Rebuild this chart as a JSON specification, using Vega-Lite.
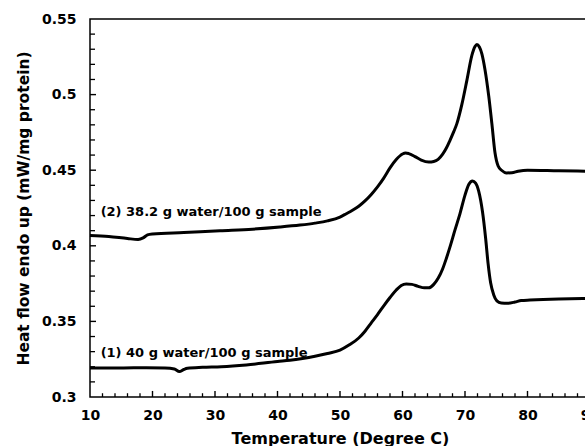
{
  "$schema": "https://vega.github.io/schema/vega-lite/v6.json",
  "width": 500,
  "height": 378,
  "autosize": {"type": "none"},
  "padding": {"left": 90, "top": 19, "right": 0, "bottom": 49},
  "background": "white",
  "config": {
    "view": {"stroke": "black", "strokeWidth": 1.5},
    "font": "DejaVu Sans",
    "axis": {"grid": false, "domain": false, "ticks": false, "labelColor": "black", "titleColor": "black", "labelFont": "DejaVu Sans", "titleFont": "DejaVu Sans"}
  },
  "datasets": {
    "curves": [
      {"series": "1", "t": 10, "h": 0.3192},
      {"series": "1", "t": 12, "h": 0.3192},
      {"series": "1", "t": 15, "h": 0.3192},
      {"series": "1", "t": 19, "h": 0.3194},
      {"series": "1", "t": 22, "h": 0.3192},
      {"series": "1", "t": 23.5, "h": 0.3185},
      {"series": "1", "t": 24.3, "h": 0.3168},
      {"series": "1", "t": 25.0, "h": 0.3182},
      {"series": "1", "t": 25.6, "h": 0.319},
      {"series": "1", "t": 28, "h": 0.3196},
      {"series": "1", "t": 31, "h": 0.32},
      {"series": "1", "t": 35, "h": 0.3212},
      {"series": "1", "t": 40, "h": 0.3235},
      {"series": "1", "t": 42, "h": 0.3243},
      {"series": "1", "t": 44, "h": 0.3255},
      {"series": "1", "t": 46, "h": 0.327},
      {"series": "1", "t": 48, "h": 0.3288},
      {"series": "1", "t": 50, "h": 0.331},
      {"series": "1", "t": 51.5, "h": 0.3345},
      {"series": "1", "t": 53, "h": 0.339},
      {"series": "1", "t": 54, "h": 0.3435},
      {"series": "1", "t": 55, "h": 0.349},
      {"series": "1", "t": 56, "h": 0.3545},
      {"series": "1", "t": 57, "h": 0.3603},
      {"series": "1", "t": 58, "h": 0.3658},
      {"series": "1", "t": 59, "h": 0.3708},
      {"series": "1", "t": 59.8, "h": 0.3738},
      {"series": "1", "t": 60.6, "h": 0.3748},
      {"series": "1", "t": 61.5, "h": 0.3745},
      {"series": "1", "t": 62.5, "h": 0.3732},
      {"series": "1", "t": 63.5, "h": 0.3722},
      {"series": "1", "t": 64.2, "h": 0.3722},
      {"series": "1", "t": 65, "h": 0.3745},
      {"series": "1", "t": 65.7, "h": 0.3785},
      {"series": "1", "t": 66.4, "h": 0.3845},
      {"series": "1", "t": 67, "h": 0.3915},
      {"series": "1", "t": 67.6, "h": 0.3993},
      {"series": "1", "t": 68.4, "h": 0.4105},
      {"series": "1", "t": 69.2, "h": 0.4213},
      {"series": "1", "t": 70, "h": 0.4335},
      {"series": "1", "t": 70.6, "h": 0.4405},
      {"series": "1", "t": 71.2, "h": 0.4429},
      {"series": "1", "t": 71.7, "h": 0.4415},
      {"series": "1", "t": 72.2, "h": 0.436},
      {"series": "1", "t": 72.8, "h": 0.4225},
      {"series": "1", "t": 73.3, "h": 0.405},
      {"series": "1", "t": 73.7, "h": 0.388},
      {"series": "1", "t": 74.1, "h": 0.3755},
      {"series": "1", "t": 74.6, "h": 0.3675},
      {"series": "1", "t": 75.1, "h": 0.3636},
      {"series": "1", "t": 75.8, "h": 0.3622},
      {"series": "1", "t": 76.8, "h": 0.362},
      {"series": "1", "t": 78, "h": 0.3628},
      {"series": "1", "t": 79, "h": 0.3638},
      {"series": "1", "t": 80.4, "h": 0.3641},
      {"series": "1", "t": 85, "h": 0.3648},
      {"series": "1", "t": 90, "h": 0.3652},
      {"series": "2", "t": 10, "h": 0.4068},
      {"series": "2", "t": 13, "h": 0.4062},
      {"series": "2", "t": 16, "h": 0.4048},
      {"series": "2", "t": 17.7, "h": 0.4042},
      {"series": "2", "t": 18.5, "h": 0.4052},
      {"series": "2", "t": 19.2, "h": 0.4072},
      {"series": "2", "t": 20, "h": 0.4078},
      {"series": "2", "t": 25, "h": 0.4088},
      {"series": "2", "t": 30.8, "h": 0.41},
      {"series": "2", "t": 36, "h": 0.411},
      {"series": "2", "t": 40.4, "h": 0.4124},
      {"series": "2", "t": 43.6, "h": 0.4137},
      {"series": "2", "t": 46, "h": 0.415},
      {"series": "2", "t": 48, "h": 0.4165},
      {"series": "2", "t": 50, "h": 0.419},
      {"series": "2", "t": 51, "h": 0.4212},
      {"series": "2", "t": 52, "h": 0.4235},
      {"series": "2", "t": 53, "h": 0.4262},
      {"series": "2", "t": 54, "h": 0.4297},
      {"series": "2", "t": 55, "h": 0.434},
      {"series": "2", "t": 56, "h": 0.439},
      {"series": "2", "t": 57, "h": 0.4448},
      {"series": "2", "t": 58, "h": 0.4515},
      {"series": "2", "t": 59, "h": 0.457},
      {"series": "2", "t": 60, "h": 0.4607},
      {"series": "2", "t": 60.5, "h": 0.4614},
      {"series": "2", "t": 61, "h": 0.461},
      {"series": "2", "t": 62, "h": 0.459},
      {"series": "2", "t": 63, "h": 0.4567},
      {"series": "2", "t": 64.2, "h": 0.4554},
      {"series": "2", "t": 65, "h": 0.4558},
      {"series": "2", "t": 65.7, "h": 0.4572},
      {"series": "2", "t": 66.4, "h": 0.4605},
      {"series": "2", "t": 67, "h": 0.4645},
      {"series": "2", "t": 67.6, "h": 0.4698},
      {"series": "2", "t": 68.2, "h": 0.4755},
      {"series": "2", "t": 68.7, "h": 0.4808},
      {"series": "2", "t": 69.5, "h": 0.4935},
      {"series": "2", "t": 70.3, "h": 0.5094},
      {"series": "2", "t": 71.1, "h": 0.5259},
      {"series": "2", "t": 71.6, "h": 0.5318},
      {"series": "2", "t": 71.9, "h": 0.5332},
      {"series": "2", "t": 72.3, "h": 0.5315},
      {"series": "2", "t": 72.7, "h": 0.527},
      {"series": "2", "t": 73.2, "h": 0.5165},
      {"series": "2", "t": 73.8, "h": 0.499},
      {"series": "2", "t": 74.3, "h": 0.4808},
      {"series": "2", "t": 74.8, "h": 0.4615},
      {"series": "2", "t": 75.3, "h": 0.4528},
      {"series": "2", "t": 75.9, "h": 0.4498},
      {"series": "2", "t": 76.6, "h": 0.4482},
      {"series": "2", "t": 77.5, "h": 0.4483},
      {"series": "2", "t": 78.5, "h": 0.4493},
      {"series": "2", "t": 80, "h": 0.45},
      {"series": "2", "t": 85, "h": 0.4496},
      {"series": "2", "t": 90, "h": 0.4493}
    ],
    "labels": [
      {"t": 11.7, "h": 0.4196, "text": "(2) 38.2 g water/100 g sample"},
      {"t": 11.7, "h": 0.3266, "text": "(1) 40 g water/100 g sample"}
    ],
    "xMajor": [{"t": 20}, {"t": 30}, {"t": 40}, {"t": 50}, {"t": 60}, {"t": 70}, {"t": 80}, {"t": 90}],
    "xMinor": [{"t": 12}, {"t": 14}, {"t": 16}, {"t": 18}, {"t": 22}, {"t": 24}, {"t": 26}, {"t": 28}, {"t": 32}, {"t": 34}, {"t": 36}, {"t": 38}, {"t": 42}, {"t": 44}, {"t": 46}, {"t": 48}, {"t": 52}, {"t": 54}, {"t": 56}, {"t": 58}, {"t": 62}, {"t": 64}, {"t": 66}, {"t": 68}, {"t": 72}, {"t": 74}, {"t": 76}, {"t": 78}, {"t": 82}, {"t": 84}, {"t": 86}, {"t": 88}],
    "yMajor": [{"h": 0.35}, {"h": 0.4}, {"h": 0.45}, {"h": 0.5}],
    "yMinor": [{"h": 0.31}, {"h": 0.32}, {"h": 0.33}, {"h": 0.34}, {"h": 0.36}, {"h": 0.37}, {"h": 0.38}, {"h": 0.39}, {"h": 0.41}, {"h": 0.42}, {"h": 0.43}, {"h": 0.44}, {"h": 0.46}, {"h": 0.47}, {"h": 0.48}, {"h": 0.49}, {"h": 0.51}, {"h": 0.52}, {"h": 0.53}, {"h": 0.54}]
  },
  "layer": [
    {
      "data": {"name": "curves"},
      "mark": {"type": "line", "color": "black", "strokeWidth": 3, "interpolate": "monotone"},
      "encoding": {
        "x": {"field": "t", "type": "quantitative", "scale": {"domain": [10, 90], "nice": false, "zero": false},
          "axis": {"orient": "bottom", "values": [10, 20, 30, 40, 50, 60, 70, 80, 90], "format": "d",
            "labelFontSize": 14, "labelFontWeight": "bold", "labelPadding": 11, "labelFlush": false,
            "title": "Temperature (Degree C)", "titleFontSize": 16, "titleFontWeight": "bold", "titleX": 250, "titleY": 33, "titleBaseline": "top", "titleAlign": "center"}},
        "y": {"field": "h", "type": "quantitative", "scale": {"domain": [0.3, 0.55], "nice": false, "zero": false},
          "axis": {"orient": "left", "values": [0.3, 0.35, 0.4, 0.45, 0.5, 0.55], "format": "~g",
            "labelFontSize": 14, "labelFontWeight": "bold", "labelPadding": 14, "labelFlush": false,
            "title": "Heat flow endo up (mW/mg protein)", "titleFontSize": 15.5, "titleFontWeight": "bold", "titleX": -67, "titleY": 189, "titleAngle": -90, "titleBaseline": "middle", "titleAlign": "center"}},
        "detail": {"field": "series", "type": "nominal"}
      }
    },
    {
      "data": {"name": "xMajor"},
      "mark": {"type": "rule", "color": "black", "strokeWidth": 1.4},
      "encoding": {
        "x": {"field": "t", "type": "quantitative", "axis": null},
        "y": {"datum": 0.3, "type": "quantitative", "axis": null},
        "y2": {"datum": 0.304}
      }
    },
    {
      "data": {"name": "xMinor"},
      "mark": {"type": "rule", "color": "black", "strokeWidth": 1.3},
      "encoding": {
        "x": {"field": "t", "type": "quantitative", "axis": null},
        "y": {"datum": 0.3, "type": "quantitative", "axis": null},
        "y2": {"datum": 0.3025}
      }
    },
    {
      "data": {"name": "yMajor"},
      "mark": {"type": "rule", "color": "black", "strokeWidth": 1.4},
      "encoding": {
        "y": {"field": "h", "type": "quantitative", "axis": null},
        "x": {"datum": 10, "type": "quantitative", "axis": null},
        "x2": {"datum": 10.96}
      }
    },
    {
      "data": {"name": "yMinor"},
      "mark": {"type": "rule", "color": "black", "strokeWidth": 1.3},
      "encoding": {
        "y": {"field": "h", "type": "quantitative", "axis": null},
        "x": {"datum": 10, "type": "quantitative", "axis": null},
        "x2": {"datum": 10.8}
      }
    },
    {
      "data": {"name": "labels"},
      "mark": {"type": "text", "align": "left", "baseline": "alphabetic", "fontSize": 13, "fontWeight": "bold", "color": "black", "font": "DejaVu Sans"},
      "encoding": {
        "x": {"field": "t", "type": "quantitative", "axis": null},
        "y": {"field": "h", "type": "quantitative", "axis": null},
        "text": {"field": "text", "type": "nominal"}
      }
    }
  ],
  "resolve": {"axis": {"x": "independent", "y": "independent"}}
}
